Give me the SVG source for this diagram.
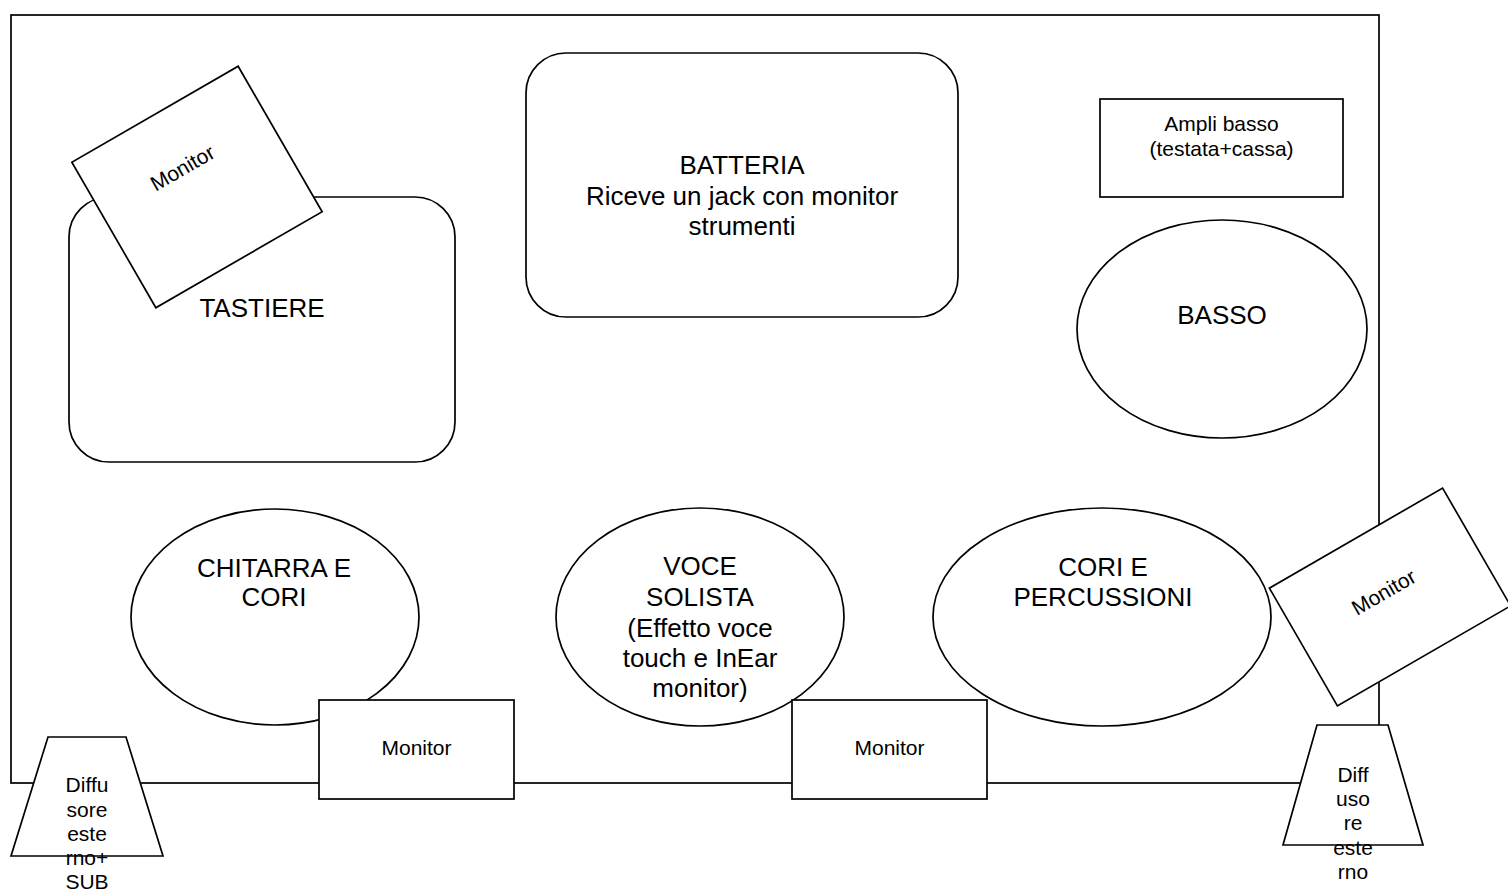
<svg xmlns="http://www.w3.org/2000/svg" width="1508" height="890" viewBox="0 0 1508 890">
<style>
.s{fill:#fff;stroke:#000;stroke-width:1.7}
.o{fill:none;stroke:#000;stroke-width:1.7}
.t{font-family:"Liberation Sans",Arial,Helvetica,sans-serif;fill:#000;text-anchor:middle}
.b{font-size:26px}
.m{font-size:21px}
</style>
<rect width="1508" height="890" fill="#fff"/>
<g id="stage"><rect class="o" x="11" y="15" width="1368" height="768"/></g>
<g id="connectors"></g>
<g id="batteria">
<rect class="s" x="526" y="53" width="432" height="264" rx="40" ry="40"/>
<text class="t b" x="742" y="174">BATTERIA</text>
<text class="t b" x="742" y="204.5">Riceve un jack con monitor</text>
<text class="t b" x="742" y="235">strumenti</text>
</g>
<g id="ampli-basso">
<rect class="s" x="1100" y="99" width="243" height="98"/>
<text class="t m" x="1221.5" y="131">Ampli basso</text>
<text class="t m" x="1221.5" y="156">(testata+cassa)</text>
</g>
<g id="basso">
<ellipse class="s" cx="1222" cy="329" rx="145" ry="109"/>
<text class="t b" x="1222" y="324">BASSO</text>
</g>
<g id="tastiere">
<rect class="s" x="69" y="197" width="386" height="265" rx="40" ry="40"/>
<text class="t b" x="262" y="317">TASTIERE</text>
</g>
<g id="monitor-tastiere" transform="translate(197,187) rotate(-30)">
<rect class="s" x="-96" y="-84" width="192" height="168"/>
<text class="t m" x="-3" y="-16.5">Monitor</text>
</g>
<g id="chitarra">
<ellipse class="s" cx="275" cy="617" rx="144" ry="108"/>
<text class="t b" x="274" y="577">CHITARRA E</text>
<text class="t b" x="274" y="606">CORI</text>
</g>
<g id="voce">
<ellipse class="s" cx="700" cy="617" rx="144" ry="109"/>
<text class="t b" x="700" y="575">VOCE</text>
<text class="t b" x="700" y="606">SOLISTA</text>
<text class="t b" x="700" y="637">(Effetto voce</text>
<text class="t b" x="700" y="667">touch e InEar</text>
<text class="t b" x="700" y="697">monitor)</text>
</g>
<g id="cori">
<ellipse class="s" cx="1102" cy="617" rx="169" ry="109"/>
<text class="t b" x="1103" y="576">CORI E</text>
<text class="t b" x="1103" y="606">PERCUSSIONI</text>
</g>
<g id="monitor-1">
<rect class="s" x="319" y="700" width="195" height="99"/>
<text class="t m" x="416.5" y="755">Monitor</text>
</g>
<g id="monitor-2">
<rect class="s" x="792" y="700" width="195" height="99"/>
<text class="t m" x="889.5" y="755">Monitor</text>
</g>
<g id="monitor-destra" transform="translate(1390,597) rotate(-30)">
<rect class="s" x="-100" y="-68" width="200" height="136"/>
<text class="t m" x="-3" y="0">Monitor</text>
</g>
<g id="diffusore-sinistra">
<path class="s" d="M48,737 L126,737 L163,856 L11,856 Z"/>
<text class="t m" x="87" y="792">Diffu</text>
<text class="t m" x="87" y="817">sore</text>
<text class="t m" x="87" y="841">este</text>
<text class="t m" x="87" y="865">rno+</text>
<text class="t m" x="87" y="889">SUB</text>
</g>
<g id="diffusore-destra">
<path class="s" d="M1317,725 L1388,725 L1423,845 L1283,845 Z"/>
<text class="t m" x="1353" y="782">Diff</text>
<text class="t m" x="1353" y="806">uso</text>
<text class="t m" x="1353" y="830">re</text>
<text class="t m" x="1353" y="855">este</text>
<text class="t m" x="1353" y="879">rno</text>
</g>
</svg>
